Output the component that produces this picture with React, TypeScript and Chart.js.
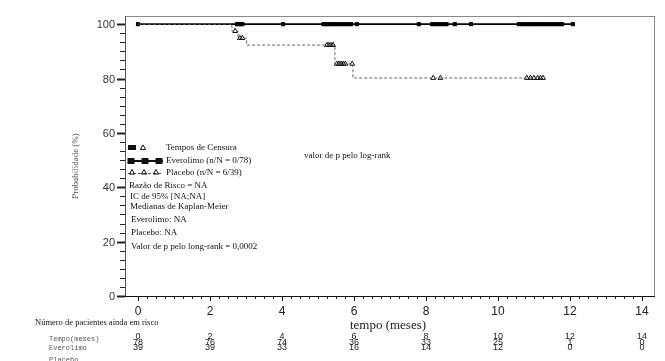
import React, { useEffect, useRef } from "react";
import { Chart, registerables } from "chart.js";

Chart.register(...registerables);

// ---------- data ----------
const xTickMonths = [0, 2, 4, 6, 8, 10, 12, 14];
const yTickValues = [0, 20, 40, 60, 80, 100];

const everolimoTimes = [0, 12.1];
const everolimoSurv = [100, 100];
const everolimoCensor = [
  0.0, 2.75, 2.8, 2.85, 2.9, 4.03, 5.15, 5.22, 5.3, 5.38, 5.45, 5.52, 5.6, 5.68, 5.76,
  5.84, 5.92, 6.08, 7.8, 8.17, 8.25, 8.33, 8.41, 8.5, 8.57, 8.8, 9.25, 10.58, 10.66,
  10.74, 10.82, 10.9, 10.98, 11.06, 11.14, 11.22, 11.3, 11.38, 11.46, 11.54, 11.62,
  11.7, 11.78, 12.08,
];

const placeboTimes = [0, 2.61, 2.78, 3.02, 5.47, 5.97, 11.25];
const placeboSurv = [100, 97.44, 94.87, 92.31, 85.4, 80.2, 80.2];
const placeboCensor = [
  2.7, 2.83, 2.9, 5.25, 5.3, 5.36, 5.42, 5.52, 5.58, 5.64, 5.7, 5.76, 5.95, 8.2, 8.4,
  10.8, 10.9, 11.0, 11.1, 11.18, 11.25,
];

const everolimoAtRisk = [78, 76, 74, 36, 33, 25, 1, 0];
const placeboAtRisk = [39, 39, 33, 16, 14, 12, 0, 0];

const legendLines = [
  "Razão de Risco = NA",
  "IC de 95% [NA;NA]",
  "Medianas de Kaplan-Meier",
  "Everolimo: NA",
  "Placebo: NA",
  "Valor de p pelo long-rank = 0,0002",
];

// ---------- helpers ----------
function survAt(times: number[], surv: number[], t: number) {
  let v = surv[0];
  for (let i = 0; i < times.length; i++) if (times[i] <= t) v = surv[i];
  return v;
}

function drawTriangle(ctx: CanvasRenderingContext2D, x: number, y: number, r: number) {
  ctx.beginPath();
  ctx.moveTo(x, y - r);
  ctx.lineTo(x + r, y + r * 0.8);
  ctx.lineTo(x - r, y + r * 0.8);
  ctx.closePath();
  ctx.stroke();
}

const decorPlugin = {
  id: "decor",
  afterDraw(chart: any) {
    const ctx: CanvasRenderingContext2D = chart.ctx;
    const xs = chart.scales.x;
    const ys = chart.scales.y;
    const { left, right, top, bottom } = chart.chartArea;
    ctx.save();

    // frame
    ctx.strokeStyle = "#8a8a8a";
    ctx.lineWidth = 1;
    ctx.strokeRect(left + 0.5, top + 0.5, right - left, bottom - top);
    ctx.strokeStyle = "#555";
    ctx.beginPath();
    ctx.moveTo(left + 0.5, top);
    ctx.lineTo(left + 0.5, bottom);
    ctx.stroke();
    ctx.strokeStyle = "#111";
    ctx.beginPath();
    ctx.moveTo(left - 2, bottom + 0.5);
    ctx.lineTo(right + 1, bottom + 0.5);
    ctx.stroke();

    // y ticks
    ctx.strokeStyle = "#222";
    for (let v = 0; v <= 100.01; v += 20 / 6) {
      const y = Math.round(ys.getPixelForValue(v)) + 0.5;
      const major = yTickValues.some((t) => Math.abs(t - v) < 0.01);
      ctx.lineWidth = major ? 2 : 1;
      ctx.beginPath();
      ctx.moveTo(left - (major ? 8 : 5), y);
      ctx.lineTo(left, y);
      ctx.stroke();
    }
    ctx.fillStyle = "#333";
    ctx.font = '11px "Liberation Sans Narrow", "Liberation Sans", Arial';
    ctx.textAlign = "right";
    ctx.textBaseline = "middle";
    yTickValues.forEach((v) => {
      ctx.fillText(String(v), left - 10, ys.getPixelForValue(v) + 1);
    });

    // x ticks
    ctx.lineWidth = 1;
    for (let m = 0; m <= 14.01; m += 0.25) {
      const x = Math.round(xs.getPixelForValue(m)) + 0.5;
      const major = xTickMonths.some((t) => Math.abs(t - m) < 0.01);
      ctx.beginPath();
      ctx.moveTo(x, bottom);
      ctx.lineTo(x, bottom + (major ? 5 : 3));
      ctx.stroke();
    }
    ctx.font = '12px "Liberation Sans Narrow", "Liberation Sans", Arial';
    ctx.textAlign = "center";
    ctx.fillStyle = "#222";
    xTickMonths.forEach((m) => {
      ctx.fillText(String(m), xs.getPixelForValue(m), bottom + 16);
    });

    // axis titles
    ctx.fillStyle = "#222";
    ctx.font = '13px "Liberation Serif", serif';
    ctx.fillText("tempo (meses)", 388, 326);
    ctx.save();
    ctx.translate(76, 166);
    ctx.rotate(-Math.PI / 2);
    ctx.fillStyle = "#555";
    ctx.font = '9px "Liberation Serif", serif';
    ctx.fillText("Probabilidade (%)", 0, 0);
    ctx.restore();

    // legend
    ctx.textAlign = "left";
    ctx.fillStyle = "#111";
    ctx.font = '9px "Liberation Serif", serif';
    ctx.fillRect(128, 145, 8, 5);
    ctx.strokeStyle = "#111";
    ctx.lineWidth = 1;
    drawTriangle(ctx, 143, 147.5, 2.6);
    ctx.fillText("Tempos de Censura", 166, 148);

    ctx.lineWidth = 2;
    ctx.beginPath();
    ctx.moveTo(128, 161);
    ctx.lineTo(163, 161);
    ctx.stroke();
    [131, 145, 159].forEach((x) => ctx.fillRect(x - 3.5, 158, 7, 6));
    ctx.fillText("Everolimo (n/N = 0/78)", 166, 161);

    ctx.lineWidth = 1;
    ctx.setLineDash([3, 2]);
    ctx.strokeStyle = "#555";
    ctx.beginPath();
    ctx.moveTo(128, 173.5);
    ctx.lineTo(161, 173.5);
    ctx.stroke();
    ctx.setLineDash([]);
    ctx.strokeStyle = "#111";
    [132, 144, 156].forEach((x) => drawTriangle(ctx, x, 172, 2.6));
    ctx.fillText("Placebo (n/N = 6/39)", 166, 173);

    const ly = [186, 197, 207, 220, 233, 247];
    legendLines.forEach((s, i) => ctx.fillText(s, 129 + (i > 0 ? 1 : 0) + (i > 2 ? 1 : 0), ly[i]));

    ctx.fillText("valor de p pelo log-rank", 304, 156);

    // at-risk table
    ctx.font = '8.5px "Liberation Serif", serif';
    ctx.fillText("Número de pacientes ainda em risco", 35, 323);
    ctx.fillStyle = "#555";
    ctx.font = '7px "Liberation Mono", monospace';
    ctx.fillText("Tempo(meses)", 49, 339);
    ctx.fillText("Everolimo", 49, 348);
    ctx.fillText("Placebo", 49, 360);
    ctx.fillStyle = "#222";
    ctx.textAlign = "center";
    ctx.font = '9px "Liberation Sans Narrow", "Liberation Sans", Arial';
    xTickMonths.forEach((m, i) => {
      const x = xs.getPixelForValue(m);
      ctx.fillText(String(m), x, 336.5);
      ctx.fillText(String(everolimoAtRisk[i]), x, 342.5);
      ctx.fillText(String(placeboAtRisk[i]), x, 348);
    });

    ctx.restore();
  },
};

export default function App() {
  const ref = useRef<HTMLCanvasElement>(null);

  useEffect(() => {
    if (!ref.current) return;
    const evCurve = everolimoTimes.map((t, i) => ({ x: t, y: everolimoSurv[i] }));
    const plCurve = placeboTimes.map((t, i) => ({ x: t, y: placeboSurv[i] }));
    const evCens = everolimoCensor.map((t) => ({ x: t, y: survAt(everolimoTimes, everolimoSurv, t) }));
    const plCens = placeboCensor.map((t) => ({ x: t, y: survAt(placeboTimes, placeboSurv, t) }));

    const chart = new Chart(ref.current, {
      type: "line",
      data: {
        datasets: [
          {
            label: "Placebo",
            data: plCurve,
            stepped: true,
            borderColor: "#666",
            borderWidth: 1,
            borderDash: [3, 2],
            pointRadius: 0,
            fill: false,
          },
          {
            label: "Placebo censura",
            data: plCens,
            showLine: false,
            pointStyle: "triangle",
            pointRadius: 2.8,
            pointBorderWidth: 1,
            pointBorderColor: "#111",
            pointBackgroundColor: "rgba(255,255,255,0)",
          },
          {
            label: "Everolimo",
            data: evCurve,
            stepped: true,
            borderColor: "#000",
            borderWidth: 1.6,
            pointRadius: 0,
            fill: false,
          },
          {
            label: "Everolimo censura",
            data: evCens,
            showLine: false,
            pointStyle: "rect",
            pointRadius: 2.9,
            pointBorderWidth: 0,
            pointBackgroundColor: "#000",
          },
        ],
      } as any,
      options: {
        responsive: false,
        animation: false,
        devicePixelRatio: 1,
        layout: { padding: { left: 125, right: 11, top: 16, bottom: 65 } },
        plugins: { legend: { display: false }, tooltip: { enabled: false } },
        scales: {
          x: { type: "linear", min: -13 / 36, max: 14 + 12 / 36, display: false },
          y: { type: "linear", min: 0, max: 103, display: false },
        },
      } as any,
      plugins: [decorPlugin],
    });
    return () => chart.destroy();
  }, []);

  return (
    <div style={{ position: "fixed", left: 0, top: 0, width: 665, height: 361, background: "#fff" }}>
      <canvas ref={ref} width={665} height={361} />
    </div>
  );
}
